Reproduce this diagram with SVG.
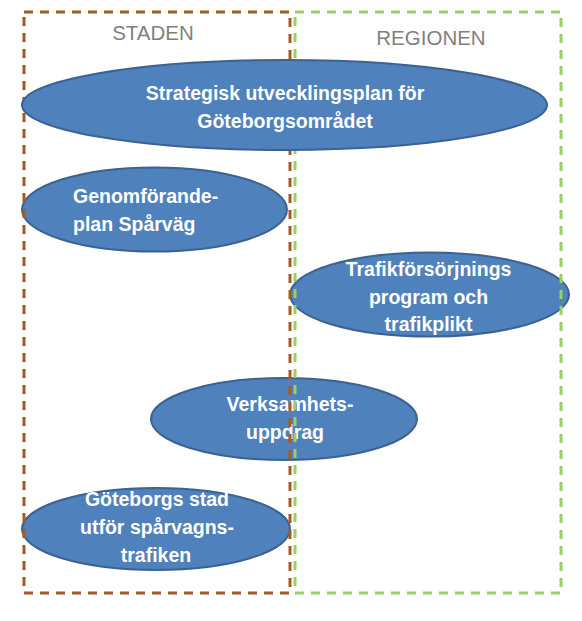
<svg xmlns="http://www.w3.org/2000/svg" width="582" height="621" viewBox="0 0 582 621">
<style>
.bg{fill:#ffffff}
.el{fill:#4f81bd;stroke:#3b6290;stroke-width:2}
.t{font-family:"Liberation Sans",Arial,sans-serif;font-weight:bold;font-size:19.5px;fill:#ffffff}
.c{text-anchor:middle}
.lab{font-family:"Liberation Sans",Arial,sans-serif;font-size:20.5px;fill:#7f7f7f;text-anchor:middle}
.box{fill:none;stroke-width:3;stroke-dasharray:9 7}
.staden{stroke:#a65a22}
.regionen{stroke:#98d062}
</style>
<rect class="bg" x="0" y="0" width="582" height="621"/>
<g id="genomforande">
<ellipse class="el" cx="154.5" cy="209.5" rx="132.5" ry="42"/>
<text class="t" x="73" y="203">Genomförande-</text>
<text class="t" x="73" y="231">plan Spårväg</text>
</g>
<g id="trafikforsorjning">
<ellipse class="el" cx="429.5" cy="294.5" rx="139.5" ry="42"/>
<text class="t c" x="428.5" y="276">Trafikförsörjnings</text>
<text class="t c" x="428.5" y="304">program och</text>
<text class="t c" x="428.5" y="331">trafikplikt</text>
</g>
<g id="verksamhetsuppdrag">
<ellipse class="el" cx="284" cy="419" rx="133" ry="41"/>
<text class="t c" x="290" y="411">Verksamhets-</text>
<text class="t c" x="285" y="439">uppdrag</text>
</g>
<g id="goteborgs-stad">
<ellipse class="el" cx="156" cy="529" rx="134" ry="41"/>
<text class="t c" x="157" y="506">Göteborgs stad</text>
<text class="t c" x="157" y="534">utför spårvagns-</text>
<text class="t c" x="156" y="562">trafiken</text>
</g>
<g id="staden">
<rect class="box staden" x="24" y="12" width="266" height="581"/>
<text class="lab" x="153" y="40">STADEN</text>
</g>
<g id="regionen">
<rect class="box regionen" x="295" y="12" width="266" height="581"/>
<text class="lab" x="431" y="45">REGIONEN</text>
</g>
<g id="connectors"></g>
<g id="strategisk">
<ellipse class="el" cx="284.5" cy="105" rx="262.5" ry="45"/>
<text class="t c" x="285" y="100">Strategisk utvecklingsplan för</text>
<text class="t c" x="285" y="128">Göteborgsområdet</text>
</g>
</svg>
